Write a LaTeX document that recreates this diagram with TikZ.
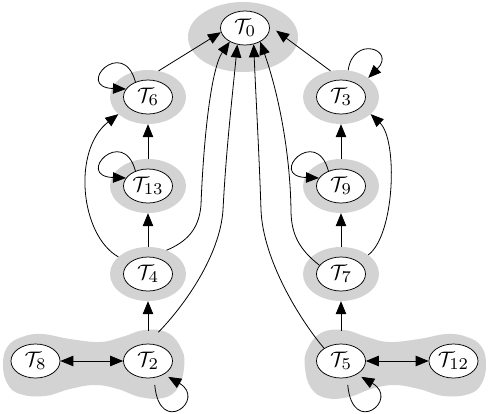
\documentclass[tikz,border=0pt]{standalone}
\usetikzlibrary{arrows.meta,shapes.geometric}
\definecolor{blobgray}{RGB}{211,211,211}
\newcommand{\tlab}[1]{\scalebox{2.1}{$\mathcal{T}_{\mbox{\scalebox{1.12}{$\scriptstyle #1$}}}$}}
\begin{document}
\begin{tikzpicture}[x=1pt,y=-1pt,
  tn/.style={ellipse, draw, line width=0.75pt, fill=white, minimum width=49pt, minimum height=34pt, inner sep=0pt},
  blob/.style={ellipse, fill=blobgray, minimum width=76pt, minimum height=54pt, inner sep=0pt},
  lobe/.style={ellipse, minimum width=70pt, minimum height=66pt, inner sep=0pt},
  arr/.style={-{Triangle[length=13pt,width=10.5pt]}, line width=0.8pt},
  darr/.style={{Triangle[length=13pt,width=10.5pt]}-{Triangle[length=13pt,width=10.5pt]}, line width=0.8pt}]
\useasboundingbox (0,0) rectangle (490,413);

% gray hulls
\node[blob, minimum width=110pt, minimum height=70pt] (b0) at (243,37) {};
\node[blob] (b6) at (148,97) {};
\node[blob] (b13) at (148,186) {};
\node[blob] (b4) at (148,274) {};
\node[blob] (b3) at (341,97) {};
\node[blob] (b9) at (341,186) {};
\node[blob] (b7) at (341,274) {};
\fill[blobgray] plot[smooth cycle, tension=0.7] coordinates {(3,363) (8,346) (22,337) (42,334) (70,339) (100,342) (122,337) (145,330) (168,333) (182,350) (184,368) (178,388) (163,398) (140,397) (118,389) (95,385) (70,389) (45,396) (20,394) (7,383)};
\begin{scope}[shift={(489,0)}, xscale=-1]
\fill[blobgray] plot[smooth cycle, tension=0.7] coordinates {(3,363) (8,346) (22,337) (42,334) (70,339) (100,342) (122,337) (145,330) (168,333) (182,350) (184,368) (178,388) (163,398) (140,397) (118,389) (95,385) (70,389) (45,396) (20,394) (7,383)};
\end{scope}
\node[lobe] (a2) at (148,364) {};
\node[lobe] (a5) at (341,364) {};

% nodes
\node[tn] (T0) at (245,28) {\tlab{0}};
\node[tn] (T6) at (148,97) {\tlab{6}};
\node[tn] (T13) at (148,186) {\tlab{13}};
\node[tn] (T4) at (148,274) {\tlab{4}};
\node[tn] (T2) at (148,361) {\tlab{2}};
\node[tn] (T8) at (35.5,361) {\tlab{8}};
\node[tn] (T3) at (341,97) {\tlab{3}};
\node[tn] (T9) at (341,186) {\tlab{9}};
\node[tn] (T7) at (341,274) {\tlab{7}};
\node[tn] (T5) at (341,361) {\tlab{5}};
\node[tn] (T12) at (453.5,361) {\tlab{12}};

% vertical chains
\draw[arr] (a2.north) -- (b4.south);
\draw[arr] (b4.north) -- (b13.south);
\draw[arr] (b13.north) -- (b6.south);
\draw[arr] (a5.north) -- (b7.south);
\draw[arr] (b7.north) -- (b9.south);
\draw[arr] (b9.north) -- (b3.south);

% into T0
\draw[arr] (b6.68) -- (T0.190);
\draw[arr, shorten >=8pt] (b3.112) -- (T0.5);
\draw[arr] (b4.52) .. controls (186,242) and (199,230) .. (201,205) .. controls (203,150) and (210,70) .. (T0.222);
\draw[arr] (a2.72) .. controls (185,305) and (220,255) .. (223,210) .. controls (226,150) and (233,90) .. (T0.245);
\draw[arr] (T5.143) .. controls (300,320) and (263,260) .. (261,210) .. controls (259,150) and (256,100) .. (T0.298);
\draw[arr] (T7.158) .. controls (300,250) and (291,235) .. (291,210) .. controls (290,150) and (278,92) .. (T0.318);

% side curves
\draw[arr] (b4.150) .. controls (80,235) and (72,150) .. (b6.210);
\draw[arr] (b7.35) .. controls (395,235) and (398,140) .. (b3.330);

% double arrows
\draw[darr] (T8.east) -- (T2.west);
\draw[darr] (T5.east) -- (T12.west);

% self loops
\draw[arr] (T6.130) .. controls +(105:48pt) and +(178:52pt) .. (T6.160);
\draw[arr] (T13.130) .. controls +(105:48pt) and +(178:52pt) .. (T13.160);
\draw[arr] (T9.130) .. controls +(105:48pt) and +(178:52pt) .. (T9.160);
\draw[arr] (b3.75) .. controls +(82:36pt) and +(45:40pt) .. (b3.35);
\draw[arr, shorten <=7pt, shorten >=5pt] (T2.290) .. controls +(275:60pt) and +(-30:50pt) .. (T2.320);
\draw[arr, shorten <=7pt, shorten >=5pt] (T5.290) .. controls +(275:60pt) and +(-30:50pt) .. (T5.320);
\end{tikzpicture}
\end{document}
